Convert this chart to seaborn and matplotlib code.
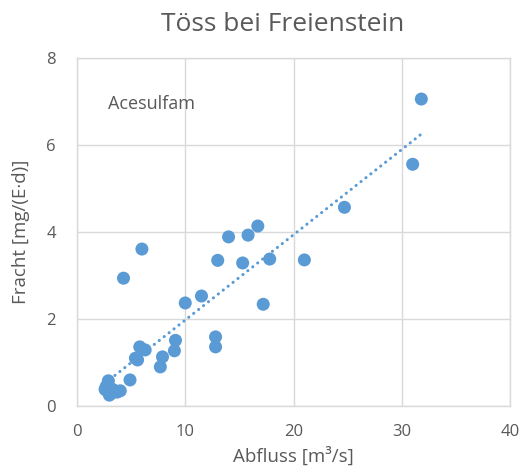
import matplotlib
matplotlib.use("Agg")
import matplotlib.pyplot as plt
import seaborn as sns
import pandas as pd

abfluss = [31.8, 31.0, 24.7, 16.7, 14.0, 15.8, 13.0, 15.3, 17.8, 21.0,
           17.2, 10.0, 11.5, 6.0, 4.3, 12.8, 12.8, 9.1, 9.0, 7.9,
           7.7, 5.8, 6.3, 5.4, 5.6, 4.9,
           2.9, 2.7, 2.8, 3.0, 3.1, 3.3, 3.5, 3.7, 4.0, 2.6, 3.2]
fracht = [7.06, 5.56, 4.57, 4.14, 3.89, 3.93, 3.35, 3.29, 3.38, 3.36,
          2.34, 2.37, 2.53, 3.61, 2.94, 1.59, 1.36, 1.51, 1.27, 1.13,
          0.90, 1.36, 1.29, 1.10, 1.06, 0.60,
          0.58, 0.45, 0.35, 0.25, 0.40, 0.38, 0.35, 0.32, 0.35, 0.38, 0.30]

df = pd.DataFrame({"Abfluss": abfluss, "Fracht": fracht})

sns.set_theme(style="white")
plt.rcParams["font.family"] = ["Open Sans", "DejaVu Sans"]

blue = "#5B9BD5"
grey = "#595959"
gridc = "#D9D9D9"

fig = plt.figure(figsize=(5.27, 4.73), dpi=100)
ax = fig.add_axes([0.146, 0.1416, 0.822, 0.7354])

sns.regplot(data=df, x="Abfluss", y="Fracht", ax=ax, ci=None, scatter=False,
            line_kws=dict(color=blue, lw=2.2, linestyle=(0, (0.05, 2.0)),
                          dash_capstyle="round"))
sns.scatterplot(data=df, x="Abfluss", y="Fracht", ax=ax, color=blue, s=88,
                edgecolor="none", zorder=3)

ax.set_xlim(0, 40)
ax.set_ylim(0, 8)
ax.set_xticks([0, 10, 20, 30, 40])
ax.set_yticks([0, 2, 4, 6, 8])
ax.grid(True, color=gridc, lw=1.0)
ax.set_axisbelow(True)
for s in ax.spines.values():
    s.set_color(gridc)
    s.set_linewidth(1.0)
ax.tick_params(axis="x", length=0, labelsize=12, colors=grey, pad=13)
ax.tick_params(axis="y", length=0, labelsize=12, colors=grey, pad=15)

ax.set_xlabel("Abfluss [m³/s]", fontsize=13.5, color=grey, labelpad=5)
ax.set_ylabel("Fracht [mg/(E·d)]", fontsize=13.5, color=grey, labelpad=12)
fig.suptitle("Töss bei Freienstein", fontsize=19, color=grey, x=0.537, y=0.975)

ax.text(0.072, 0.868, "Acesulfam", transform=ax.transAxes, fontsize=13,
        color=grey, ha="left", va="center")

fig.savefig("out.png", dpi=100)
